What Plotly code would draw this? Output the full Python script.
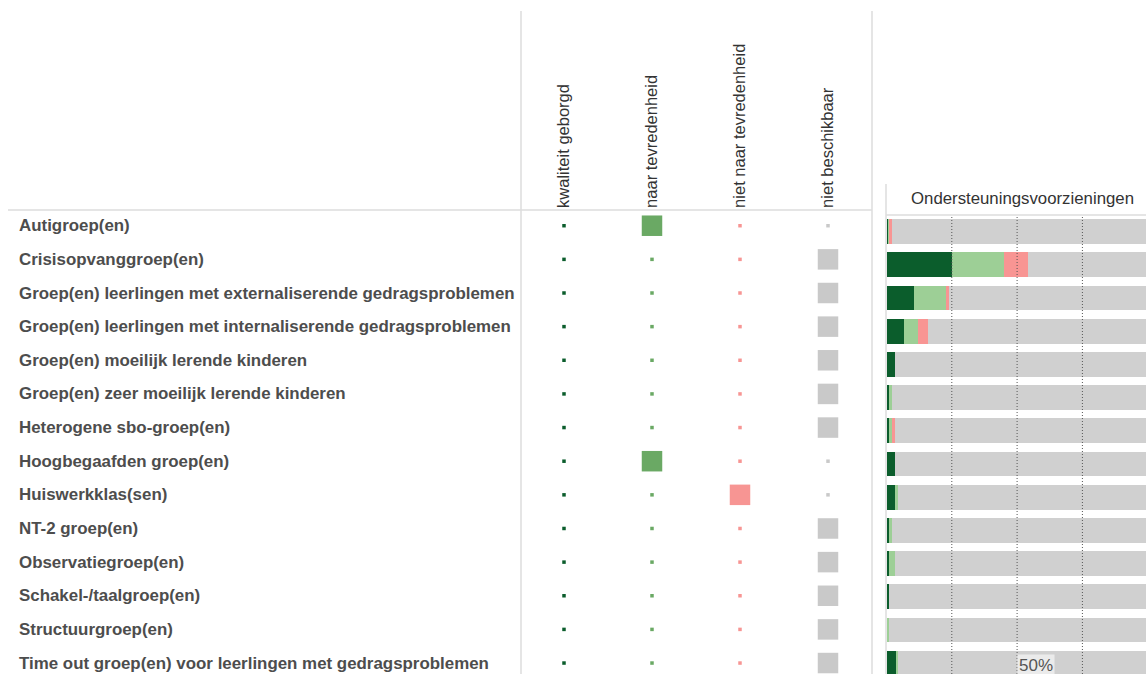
import plotly.graph_objects as go

W, H = 1146, 674

categories = [
    "Autigroep(en)",
    "Crisisopvanggroep(en)",
    "Groep(en) leerlingen met externaliserende gedragsproblemen",
    "Groep(en) leerlingen met internaliserende gedragsproblemen",
    "Groep(en) moeilijk lerende kinderen",
    "Groep(en) zeer moeilijk lerende kinderen",
    "Heterogene sbo-groep(en)",
    "Hoogbegaafden groep(en)",
    "Huiswerkklas(sen)",
    "NT-2 groep(en)",
    "Observatiegroep(en)",
    "Schakel-/taalgroep(en)",
    "Structuurgroep(en)",
    "Time out groep(en) voor leerlingen met gedragsproblemen",
]

columns = ["kwaliteit geborgd", "naar tevredenheid", "niet naar tevredenheid", "niet beschikbaar"]

# matrix indicator per column (1 = this school's answer)
mat_kwaliteit_geborgd = [0, 0, 0, 0, 0, 0, 0, 0, 0, 0, 0, 0, 0, 0]
mat_naar_tevredenheid = [1, 0, 0, 0, 0, 0, 0, 1, 0, 0, 0, 0, 0, 0]
mat_niet_naar_tevredenheid = [0, 0, 0, 0, 0, 0, 0, 0, 1, 0, 0, 0, 0, 0]
mat_niet_beschikbaar = [0, 1, 1, 1, 1, 1, 1, 0, 0, 1, 1, 1, 1, 1]

# percentages for the stacked bars (all schools)
bar_kwaliteit_geborgd = [0.4, 25.0, 10.2, 6.6, 3.1, 0.8, 0.9, 3.1, 3.1, 0.8, 0.8, 0.8, 0.0, 3.8]
bar_naar_tevredenheid = [0.4, 19.6, 12.5, 5.3, 0.0, 1.1, 0.9, 0.0, 1.0, 1.1, 2.3, 0.0, 0.8, 0.5]
bar_niet_naar_tevredenheid = [1.3, 9.5, 1.0, 3.7, 0.0, 0.0, 1.4, 0.0, 0.0, 0.0, 0.0, 0.0, 0.0, 0.0]
bar_niet_beschikbaar = [97.9, 45.9, 76.3, 84.4, 96.9, 98.1, 96.8, 96.9, 95.9, 98.1, 96.9, 99.2, 99.2, 95.7]

grid_ticks = [25, 50, 75]

matrix_colors = ["#0b5d2c", "#6aa964", "#f79593", "#c9c9c9"]
bar_colors = ["#0b5d2c", "#9dcf96", "#f89593", "#d0d0d0"]

FONT = "Liberation Sans, Arial, sans-serif"

fig = go.Figure()

mat_values = [mat_kwaliteit_geborgd, mat_naar_tevredenheid, mat_niet_naar_tevredenheid, mat_niet_beschikbaar]
for col, vals, colr in zip(columns, mat_values, matrix_colors):
    fig.add_trace(go.Scatter(
        x=[col] * len(categories), y=categories, mode="markers",
        marker=dict(symbol="square", size=[3.5 + 17 * v for v in vals], color=colr,
                    opacity=1, line=dict(width=0)),
        xaxis="x", yaxis="y", showlegend=False, hoverinfo="skip",
    ))

bar_values = [bar_kwaliteit_geborgd, bar_naar_tevredenheid, bar_niet_naar_tevredenheid, bar_niet_beschikbaar]
for col, vals, colr in zip(columns, bar_values, bar_colors):
    fig.add_trace(go.Bar(
        x=vals, y=categories, orientation="h", name=col,
        marker=dict(color=colr, line=dict(width=0)), width=0.75,
        xaxis="x2", yaxis="y2", showlegend=False, hoverinfo="skip",
    ))

def px_x(p):
    return p / W

def px_y(p):
    return 1 - p / H

# row labels
for c in categories:
    fig.add_annotation(
        x=px_x(17), xref="paper", y=c, yref="y", text="<b>%s</b>" % c,
        showarrow=False, xanchor="left", yanchor="middle",
        font=dict(family=FONT, size=16.9, color="#4d4d4d"),
    )

# pane header
fig.add_annotation(
    x=px_x(909), xref="paper", y=px_y(198), yref="paper", text="Ondersteuningsvoorzieningen",
    showarrow=False, xanchor="left", yanchor="middle",
    font=dict(family=FONT, size=16.8, color="#333333"),
)

# axis value label at bottom
fig.add_annotation(
    x=50, xref="x2", y=0, yref="paper", text="50%",
    showarrow=False, xanchor="left", yanchor="bottom", xshift=0, yshift=-3,
    bgcolor="#ebebeb", borderpad=1,
    font=dict(family=FONT, size=17, color="#555555"),
)

shapes = []
line_col = "#dcdcdc"
shapes.append(dict(type="line", xref="paper", yref="paper", x0=px_x(8), x1=px_x(872),
                   y0=px_y(210), y1=px_y(210), line=dict(color=line_col, width=1.5)))
shapes.append(dict(type="line", xref="paper", yref="paper", x0=px_x(521), x1=px_x(521),
                   y0=px_y(11), y1=0, line=dict(color=line_col, width=1.5)))
shapes.append(dict(type="line", xref="paper", yref="paper", x0=px_x(872), x1=px_x(872),
                   y0=px_y(11), y1=0, line=dict(color=line_col, width=1.5)))
shapes.append(dict(type="line", xref="paper", yref="paper", x0=px_x(886), x1=px_x(886),
                   y0=px_y(184), y1=0, line=dict(color=line_col, width=1.5)))
shapes.append(dict(type="line", xref="paper", yref="paper", x0=px_x(886), x1=1,
                   y0=px_y(215), y1=px_y(215), line=dict(color=line_col, width=1.5)))
for t in grid_ticks:
    shapes.append(dict(type="line", xref="x2", yref="y2 domain", x0=t, x1=t, y0=0, y1=1,
                       layer="above", line=dict(color="#555555", width=1, dash="1px,2px")))

top_mat = 208.9
top_bar = 215.0
row_mat = 33.64
row_bar = 33.2

fig.update_layout(
    width=W, height=H,
    margin=dict(l=0, r=0, t=0, b=0),
    paper_bgcolor="white", plot_bgcolor="rgba(0,0,0,0)",
    barmode="stack", bargap=0,
    shapes=shapes,
    font=dict(family=FONT),
    xaxis=dict(domain=[px_x(520), px_x(872)], type="category", categoryorder="array",
               categoryarray=columns, range=[-0.5, 3.5], side="top", tickangle=-90,
               showgrid=False, zeroline=False, showline=False, ticks="",
               tickfont=dict(family=FONT, size=16.5, color="#333333"), anchor="y",
               fixedrange=True),
    yaxis=dict(domain=[0, px_y(top_mat)], type="category", categoryorder="array",
               categoryarray=categories,
               range=[(H - top_mat) / row_mat - 0.5, -0.5],
               showticklabels=False, showgrid=False, zeroline=False, showline=False,
               anchor="x"),
    xaxis2=dict(domain=[px_x(886.5), 1], range=[0, (W - 886.5) / 65.3 * 25],
                showticklabels=False, showgrid=False, zeroline=False, showline=False,
                anchor="y2"),
    yaxis2=dict(domain=[0, px_y(top_bar)], type="category", categoryorder="array",
                categoryarray=categories,
                range=[(H - top_bar) / row_bar - 0.5, -0.5],
                showticklabels=False, showgrid=False, zeroline=False, showline=False,
                anchor="x2"),
)

fig.write_html(
    "out.html",
    config={"displayModeBar": False},
    post_script="document.body.style.margin='0';document.body.style.overflow='hidden';",
)
